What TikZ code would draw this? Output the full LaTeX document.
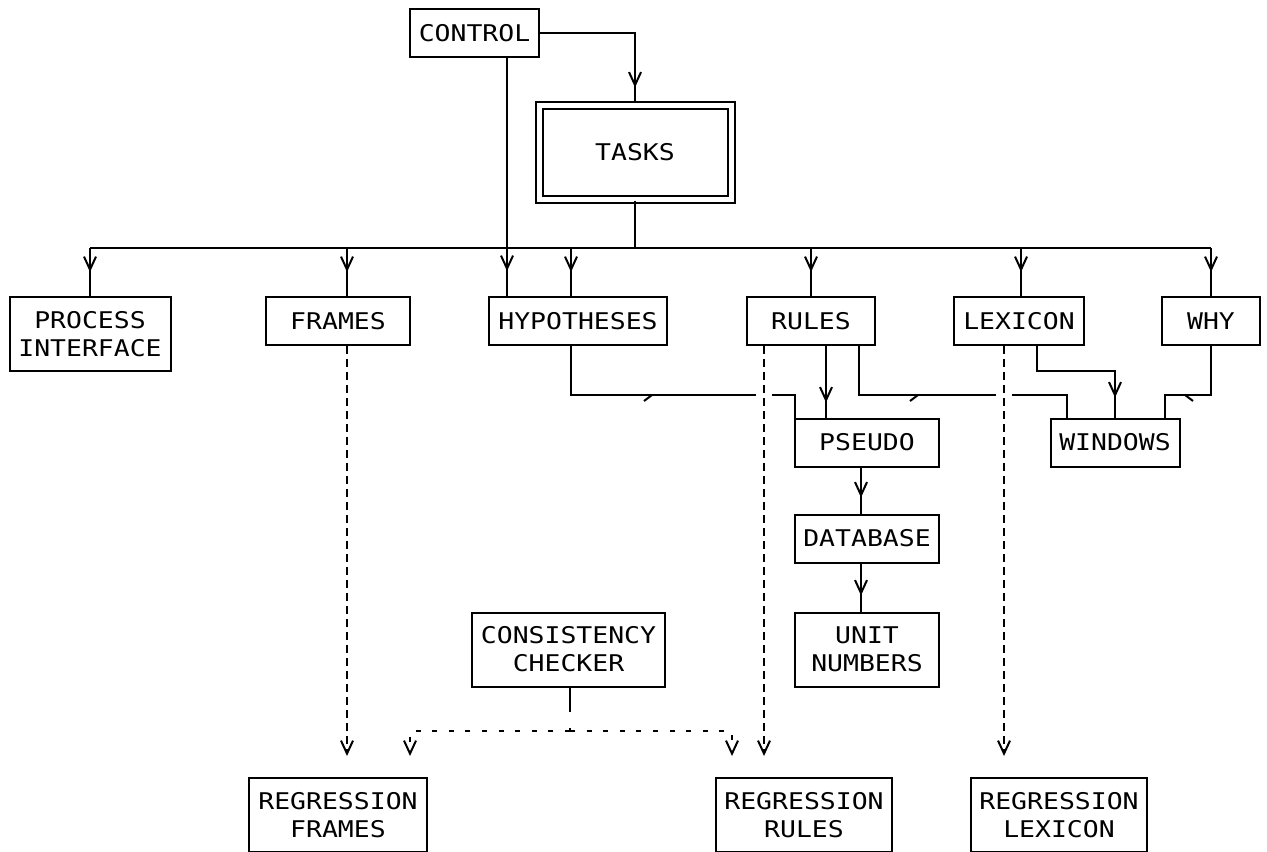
\documentclass[tikz,border=0pt]{standalone}
\usepackage{fontspec}
\setmonofont[FakeStretch=1.15]{DejaVu Sans Mono}
\usetikzlibrary{arrows.meta,positioning,decorations.markings,calc}

\begin{document}
\begin{tikzpicture}[
  x=0.5pt, y=-0.5pt,
  font=\ttfamily\fontsize{11.5}{14}\selectfont,
  line width=1pt,
  >={Straight Barb[length=6.5pt,width=6pt]},
  box/.style={draw, align=center, inner sep=0pt, minimum width=#1,
    minimum height=24pt},
  tallbox/.style={box=#1, minimum height=37pt},
  arr/.style={postaction={decorate}, decoration={markings,
      mark=at position #1 with {\arrow{>}}}},
  halfbarb/.style 2 args={postaction={decorate}, decoration={markings,
      mark=at position #1 with {\arrow{Straight Barb[#2,length=4pt,width=6pt]}}}},
  hop/.style={preaction={draw=white, solid, line width=8pt, shorten <=1pt}},
  dashline/.style={hop, dash pattern=on 4pt off 2.5pt, ->, shorten >=10.5pt},
  dotline/.style={dash pattern=on 2.5pt off 5.8pt, ->, shorten >=10.5pt}
]
\useasboundingbox (0,0) rectangle (1267,851);

\node[box=64.5pt] (control) at (474.5,33) {CONTROL};
\node[box=96pt, minimum height=47pt, double, double distance=2.5pt] (tasks)
  at (635,152.5) {TASKS};

\node[tallbox=80.5pt] (proc) at (90,334) {PROCESS\\INTERFACE};
\node[box=72pt] (frames) at (338,321) {FRAMES};
\node[box=89pt] (hyp) at (578,321) {HYPOTHESES};
\node[box=64pt] (rules) at (811,321) {RULES};
\node[box=65pt] (lex) at (1019,321) {LEXICON};
\node[box=49pt] (why) at (1211,321) {WHY};

\node[box=72pt] (pseudo) at (867,442.5) {PSEUDO};
\node[box=72pt, below=23pt of pseudo] (db) {DATABASE};
\node[tallbox=72pt, below=24pt of db] (unit) {UNIT\\NUMBERS};
\node[box=64.5pt] (windows) at (1115,442.5) {WINDOWS};
\node[tallbox=96.5pt, left=64pt of unit] (checker) {CONSISTENCY\\CHECKER};

\node[tallbox=89pt] (regframes) at (338,815) {REGRESSION\\FRAMES};
\node[tallbox=88pt] (regrules) at (804,815) {REGRESSION\\RULES};
\node[tallbox=88pt] (reglex) at (1059,815) {REGRESSION\\LEXICON};

\coordinate (bus) at (635,248);
\draw[arr=-8.5pt, shorten >=1pt] (control.east) -| (tasks.north);
\draw[arr=-12.5pt] ([xshift=16.25pt]control.south) -- ([xshift=16.25pt]control.south |- hyp.north);
\draw (tasks.south) -- (bus);
\draw (proc.north |- bus) -- (why.north |- bus);
\foreach \n/\dx in {proc/0, frames/4.5, hyp/-3.5, rules/0, lex/1, why/0}
  \draw[arr=-12pt] ([xshift=\dx pt]\n.north |- bus) -- ([xshift=\dx pt]\n.north);

\draw[halfbarb={66.5pt}{right}] ([xshift=-3.5pt]hyp.south) -- ++(0,49) -| ([xshift=.5pt]pseudo.north west);
\draw[arr=-7.5pt] ([xshift=7.5pt]rules.south) -- ([xshift=7.5pt]rules.south |- pseudo.north);
\draw[halfbarb={55.5pt}{right}] ([xshift=24pt]rules.south) -- ++(0,49) -| ([xshift=8.5pt]windows.north west);
\draw[arr=-10pt] ([xshift=9pt]lex.south) -- ++(0,25) -| (windows.north);
\draw[halfbarb={-20pt}{left}] (why.south) -- ++(0,49) -| ([xshift=-8pt]windows.north east);
\draw[arr=-8pt] ([xshift=-3pt]pseudo.south) -- ([xshift=-3pt]pseudo.south |- db.north);
\draw[arr=-8pt] ([xshift=-3pt]db.south) -- ([xshift=-3pt]db.south |- unit.north);

\draw[dashline] ([xshift=4.5pt]frames.south) -- ([xshift=4.5pt]frames.south |- regframes.north);
\draw[dashline] ([xshift=-23.5pt]rules.south) -- ([xshift=-23.5pt]rules.south |- regrules.north);
\draw[dashline] ([xshift=-7.5pt]lex.south) -- ([xshift=-7.5pt]lex.south |- reglex.north);

\coordinate (chk) at ($(checker.south)+(1.5,43)$);
\draw[dash pattern=on 12pt off 8pt] (checker.south -| chk) -- (chk);
\draw[dotline] (chk) -| ([xshift=36pt]regframes.north);
\draw[dotline] (chk) -| ([xshift=-36pt]regrules.north);

\end{tikzpicture}
\end{document}
